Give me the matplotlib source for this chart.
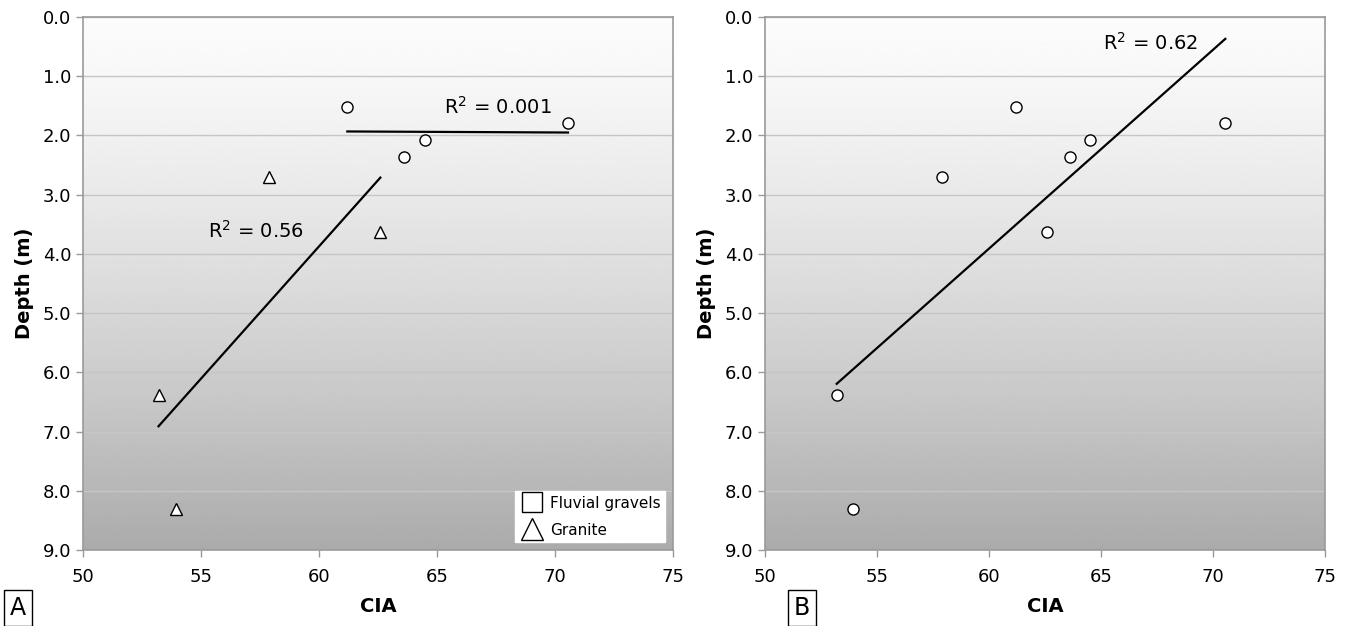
import numpy as np
import matplotlib.pyplot as plt
from matplotlib.lines import Line2D

# ── data ──────────────────────────────────────────────────
fluvial_cia   = [61.2, 64.5, 63.6, 70.55]
fluvial_depth = [1.52, 2.08, 2.37, 1.79]
granite_cia   = [57.9, 62.6, 53.2, 53.95]
granite_depth = [2.70, 3.63, 6.38, 8.30]
r2_fluvial = "0.001"
r2_granite = "0.56"
r2_all     = "0.62"

all_cia   = fluvial_cia + granite_cia
all_depth = fluvial_depth + granite_depth

FIG_W, FIG_H = 1353, 626
plt.rcParams["font.family"] = "DejaVu Sans"


def trend(ax, x, y):
    # linear least-squares trendline over the x range of the data
    x = np.asarray(x); y = np.asarray(y)
    k, b = np.polyfit(x, y, 1)
    xs = np.array([x.min(), x.max()])
    ax.plot(xs, k * xs + b, color="black", lw=1.6, zorder=3)


def style_axes(ax):
    t = np.linspace(0, 1, 256) ** 1.35
    grad = (0.985 - (0.985 - 0.67) * t).reshape(-1, 1)
    ax.imshow(grad, extent=[0, 1, 0, 1], transform=ax.transAxes,
              cmap="gray", vmin=0, vmax=1, aspect="auto", zorder=0)
    ax.set_xlim(50, 75)
    ax.set_ylim(9, 0)
    ax.set_xticks(range(50, 76, 5))
    ax.set_yticks(range(0, 10))
    ax.set_yticklabels([f"{v:.1f}" for v in range(0, 10)])
    ax.yaxis.grid(True, color="#c6c6c6", lw=1, zorder=1)
    ax.set_axisbelow(True)
    for s in ax.spines.values():
        s.set_color("#9a9a9a")
        s.set_linewidth(1.2)
    ax.tick_params(colors="#9a9a9a", labelcolor="black", labelsize=13,
                   length=5, width=1)
    ax.tick_params(axis="x", pad=8)
    ax.set_xlabel("CIA", fontsize=14, fontweight="bold", labelpad=8)
    ax.set_ylabel("Depth (m)", fontsize=14, fontweight="bold", labelpad=6)


fig = plt.figure(figsize=(FIG_W / 100, FIG_H / 100), dpi=100)

mk = dict(ls="none", mfc="white", mec="black", mew=1.0, zorder=4)

# ── panel A ───────────────────────────────────────────────
axA = fig.add_axes([83 / FIG_W, 1 - 550 / FIG_H,
                    590 / FIG_W, 533 / FIG_H])
style_axes(axA)
axA.plot(fluvial_cia, fluvial_depth, marker="o", ms=8, **mk)
axA.plot(granite_cia, granite_depth, marker="^", ms=8.5, **mk)
trend(axA, fluvial_cia, fluvial_depth)
trend(axA, granite_cia, granite_depth)
axA.text(65.3, 1.63, f"R$^2$ = {r2_fluvial}", fontsize=14)
axA.text(55.3, 3.72, f"R$^2$ = {r2_granite}", fontsize=14)

handles = [Line2D([], [], ls="none", marker="s", ms=14, mfc="white",
                  mec="black", mew=1.0, label="Fluvial gravels"),
           Line2D([], [], ls="none", marker="^", ms=16, mfc="white",
                  mec="black", mew=1.0, label="Granite")]
leg = axA.legend(handles=handles, loc="lower right", fontsize=11,
                 frameon=True, fancybox=False, framealpha=1,
                 edgecolor="white", borderaxespad=0.5,
                 handletextpad=0.4, labelspacing=0.8, borderpad=0.3,
                 handlelength=1.6)

# ── panel B ───────────────────────────────────────────────
axB = fig.add_axes([765 / FIG_W, 1 - 550 / FIG_H,
                    560 / FIG_W, 533 / FIG_H])
style_axes(axB)
axB.plot(all_cia, all_depth, marker="o", ms=8, **mk)
trend(axB, all_cia, all_depth)
axB.text(65.1, 0.55, f"R$^2$ = {r2_all}", fontsize=14)

# ── panel letters ─────────────────────────────────────────
box = dict(boxstyle="square,pad=0.25", fc="white", ec="black", lw=1)
fig.text(10 / FIG_W, 1 - 608 / FIG_H, "A", fontsize=17, va="center",
         ha="left", bbox=box)
fig.text(794 / FIG_W, 1 - 608 / FIG_H, "B", fontsize=17, va="center",
         ha="left", bbox=box)

plt.savefig("out.png", dpi=100)
